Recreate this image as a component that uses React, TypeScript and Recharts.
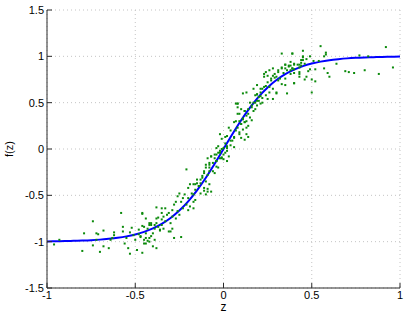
import { ComposedChart, Scatter, Line, XAxis, YAxis, CartesianGrid } from "recharts";

const xTicks = [-1, -0.5, 0, 0.5, 1];
const yTicks = [-1.5, -1, -0.5, 0, 0.5, 1, 1.5];

// fitted curve
const curveZ = [
  -1, -0.95, -0.9, -0.85, -0.8, -0.75, -0.7, -0.65, -0.6, -0.55, -0.5, -0.45, -0.4, -0.35,
  -0.3, -0.25, -0.2, -0.15, -0.1, -0.05, 0, 0.05, 0.1, 0.15, 0.2, 0.25, 0.3, 0.35, 0.4,
  0.45, 0.5, 0.55, 0.6, 0.65, 0.7, 0.75, 0.8, 0.85, 0.9, 0.95, 1,
];
const curveF = [
  -0.997, -0.995, -0.994, -0.991, -0.988, -0.984, -0.978, -0.969, -0.958, -0.943, -0.922,
  -0.894, -0.856, -0.807, -0.744, -0.664, -0.565, -0.446, -0.31, -0.159, 0, 0.159, 0.31,
  0.446, 0.565, 0.664, 0.744, 0.807, 0.856, 0.894, 0.922, 0.943, 0.958, 0.969, 0.978,
  0.984, 0.988, 0.991, 0.994, 0.995, 0.997,
];

// noisy samples
const sampleZ = [
  0.92, 0.96, 0.88, 0.8, 0.77, 0.82, 0.74, 0.71, 0.69, 0.64, 0.6, 0.59, 0.57, 0.58, 0.58,
  0.57, 0.55, 0.54, 0.52, 0.52, 0.5, 0.5, 0.51, 0.49, 0.49, 0.48, 0.47, 0.47, 0.46, 0.46,
  0.45, 0.45, 0.45, 0.44, 0.43, 0.43, 0.43, 0.4, 0.4, 0.39, 0.39, 0.38,
  0.35, 0.37, 0.4, 0.43, 0.44, 0.4, 0.38, 0.35, 0.33, 0.31, 0.28, 0.26, 0.24, 0.23, 0.25,
  0.27, 0.29, 0.31, 0.33, 0.35, 0.36, 0.4, 0.3, 0.28, 0.26, 0.23, 0.21, 0.19, 0.17, 0.19,
  0.21, 0.22, 0.21, 0.2, 0.18, 0.16, 0.13, 0.11, 0.08, 0.08, 0.1, 0.12, 0.14, 0.15, 0.16,
  0.17, 0.13, 0.11, 0.1, 0.08, 0.07, 0.09, 0.13, 0.14, 0.12, 0.1, 0.06, 0.05, 0.04, 0.03,
  0.04, 0.06, 0.02, 0.01, -0.01, -0.02, 0.02, 0, -0.01, -0.03, -0.02, -0.04, 0, 0.02, 0.03,
  -0.04, 0.01, 0.06, 0.09, 0.07, 0.33, 0.39, 0.08,
  0.45, 0.44, 0.42, 0.4, 0.38, 0.37, 0.35, 0.36, 0.33, 0.34, 0.31, 0.29, 0.28, 0.3, 0.32,
  0.27, 0.25, 0.23, 0.24, 0.26, 0.28, 0.3, 0.22, 0.21, 0.19, 0.18, 0.2, 0.19, 0.17, 0.15,
  0.16, 0.14, 0.12, 0.13, 0.11, 0.09, 0.08, 0.07, 0.1, 0.12, 0.18, 0.19, 0.22, 0.24, 0.25,
  0.35, 0.38, 0.43, 0.39,
  0.12, 0.14, 0.11, 0.09, 0.13, 0.06, 0.04, 0.02, 0.02, 0, -0.02, -0.03, -0.05, -0.07,
  -0.09, -0.1, -0.08, -0.06, -0.11, -0.12, -0.13, -0.15, -0.14, -0.16, -0.11, -0.09, -0.1,
  -0.13, -0.08, -0.01, -0.04, 0.01, -0.03,
  -0.02, -0.04, -0.01, -0.05, -0.07, -0.06, -0.08, -0.04, -0.1, -0.08, -0.05, -0.09, -0.11,
  -0.12, -0.1, -0.08, -0.09, -0.07, -0.11, -0.14, -0.13, -0.15, -0.16, -0.17, -0.19, -0.21,
  -0.2, -0.18, -0.17, -0.16, -0.17, -0.2, -0.22, -0.23, -0.25, -0.26, -0.24, -0.21, -0.19,
  -0.17, -0.2, -0.23, -0.27, -0.28, -0.29, -0.26, -0.25, -0.27, -0.29, -0.31, -0.33, -0.35,
  -0.32, -0.34, -0.35, -0.35, -0.33, -0.3, -0.29, -0.31, -0.34, -0.35, -0.36, -0.37, -0.38,
  -0.39, -0.41, -0.42, -0.43, -0.45, -0.46, -0.44, -0.4, -0.42, -0.39, -0.47, -0.38, -0.44,
  -0.45, -0.24, -0.28, -0.3,
  -0.38, -0.37, -0.38, -0.41, -0.42, -0.39, -0.36, -0.46, -0.44, -0.46, -0.48, -0.48, -0.47,
  -0.44, -0.43, -0.45, -0.42, -0.51, -0.5, -0.52, -0.53, -0.55, -0.56, -0.54, -0.58, -0.57,
  -0.62, -0.63, -0.62, -0.57, -0.64, -0.65, -0.68, -0.7, -0.68, -0.71, -0.72, -0.74, -0.74,
  -0.72, -0.79, -0.8, -0.46, -0.49, -0.53, -0.41, -0.4, -0.93, -0.96,
];
const sampleF = [
  1.1, 0.88, 0.81, 0.85, 1.01, 1.0, 0.82, 0.83, 0.84, 0.92, 0.78, 0.82, 0.87, 1.04, 1.02,
  1.0, 1.11, 0.95, 0.86, 0.73, 0.75, 0.61, 0.95, 1.0, 0.86, 0.84, 0.97, 0.78, 0.92, 0.75,
  0.96, 1.06, 1.0, 0.93, 0.78, 0.83, 0.91, 0.71, 0.82, 0.87, 1.03, 0.9,
  0.91, 0.89, 0.91, 0.88, 0.9, 0.86, 0.85, 0.87, 0.88, 0.85, 0.87, 0.85, 0.83, 0.81, 0.79,
  0.76, 0.77, 0.74, 0.7, 0.69, 0.6, 0.71, 0.6, 0.54, 0.61, 0.67, 0.65, 0.69, 0.65, 0.59,
  0.57, 0.55, 0.49, 0.52, 0.5, 0.47, 0.61, 0.6, 0.49, 0.45, 0.43, 0.41, 0.38, 0.34, 0.31,
  0.41, 0.3, 0.33, 0.27, 0.23, 0.2, 0.18, 0.23, 0.13, 0.1, 0.12, 0.13, 0.09, 0.2, 0.23,
  0.04, 0.02, 0.01, 0.06, 0.11, 0.16, -0.02, -0.06, 0.0, -0.04, -0.1, -0.13, -0.11, -0.13, -0.08,
  0.01, 0.13, 0.29, 0.38, 0.3, 1.03, 1.03, 0.49,
  0.99, 0.96, 0.91, 0.92, 0.94, 0.9, 0.91, 0.85, 0.87, 0.82, 0.83, 0.81, 0.79, 0.78, 0.76,
  0.74, 0.72, 0.78, 0.68, 0.67, 0.65, 0.61, 0.65, 0.61, 0.59, 0.58, 0.56, 0.52, 0.5, 0.5,
  0.45, 0.43, 0.41, 0.36, 0.32, 0.3, 0.38, 0.49, 0.27, 0.29, 0.43, 0.47, 0.5, 0.58, 0.54,
  0.76, 0.81, 0.81, 0.87,
  0.29, 0.25, 0.21, 0.16, 0.16, 0.12, 0.09, 0.14, 0.03, 0.01, -0.02, 0.03, -0.06, -0.08,
  -0.1, -0.17, -0.2, -0.24, -0.24, -0.29, -0.33, -0.37, -0.4, -0.44, -0.42, -0.46, -0.49,
  -0.48, -0.15, -0.1, -0.13, -0.04, -0.2,
  -0.04, -0.06, -0.09, -0.1, -0.08, -0.15, -0.17, -0.19, -0.2, -0.24, -0.26, -0.28, -0.26,
  -0.31, -0.35, -0.38, -0.43, -0.46, -0.45, -0.4, -0.37, -0.33, -0.38, -0.38, -0.38, -0.22,
  -0.42, -0.48, -0.49, -0.55, -0.57, -0.53, -0.49, -0.53, -0.48, -0.51, -0.57, -0.6, -0.62,
  -0.64, -0.66, -0.64, -0.57, -0.6, -0.66, -0.67, -0.71, -0.75, -0.73, -0.69, -0.64, -0.64,
  -0.71, -0.73, -0.69, -0.76, -0.78, -0.8, -0.86, -0.89, -0.86, -0.82, -0.87, -0.84, -0.8,
  -0.86, -0.82, -0.8, -0.86, -0.84, -0.69, -0.91, -0.91, -0.96, -0.98, -0.95, -1.07, -1.02,
  -0.98, -0.95, -0.96, -0.89,
  -0.63, -0.74, -0.75, -0.8, -0.82, -0.82, -0.88, -0.7, -0.75, -0.83, -0.87, -0.92, -0.94,
  -0.96, -0.99, -1.02, -1.0, -0.93, -0.98, -0.85, -0.9, -0.96, -1.02, -1.07, -0.69, -0.84,
  -0.9, -0.96, -0.93, -0.89, -0.98, -1.07, -1.05, -1.11, -0.88, -0.92, -0.91, -0.78, -1.04,
  -0.98, -0.91, -1.1, -1.12, -1.09, -1.13, -0.94, -1.05, -0.98, -1.03,
];

const curve = curveZ.map((z, i) => ({ z, f: curveF[i] }));
const samples = sampleZ.map((z, i) => ({ z, f: sampleF[i] }));

const axisColor = "#2b2b2b";
const tickStyle = { fill: "#000", fontSize: 11 };

const SampleDot = (props: any) => (
  <rect x={props.cx - 1} y={props.cy - 1} width={2} height={2} fill="#0b8a0b" />
);

const YLabel = (props: any) => {
  const vb = props.viewBox;
  const cy = vb.y + vb.height / 2;
  return (
    <text x={13} y={cy} transform={`rotate(-90 13 ${cy})`} textAnchor="middle" fontSize={11} fill="#000">
      f(z)
    </text>
  );
};

export default function App() {
  return (
    <div style={{ position: "absolute", left: 0, top: 0, width: 409, height: 320, background: "#fff", fontFamily: "'Liberation Sans', Arial, sans-serif" }}>
      <ComposedChart width={409} height={320} margin={{ top: 10, right: 9, bottom: 0, left: 0 }}>
        <CartesianGrid stroke="#c4c4c4" strokeDasharray="1 3" />
        <XAxis
          type="number" dataKey="z" domain={[-1, 1]} ticks={xTicks} height={32}
          tickSize={-5} tickMargin={8} interval={0}
          axisLine={{ stroke: axisColor }} tickLine={{ stroke: axisColor }} tick={tickStyle}
          label={{ value: "z", position: "insideBottom", offset: 9, fontSize: 12, fill: "#000" }}
        />
        <XAxis
          xAxisId="top" orientation="top" type="number" domain={[-1, 1]} ticks={xTicks} height={0}
          tickSize={-5} interval={0} tickFormatter={() => ""}
          axisLine={{ stroke: axisColor }} tickLine={{ stroke: axisColor }}
        />
        <YAxis
          type="number" dataKey="f" domain={[-1.5, 1.5]} ticks={yTicks} width={47}
          tickSize={-5} tickMargin={8} interval={0}
          axisLine={{ stroke: axisColor }} tickLine={{ stroke: axisColor }} tick={tickStyle}
          label={{ content: YLabel }}
        />
        <YAxis
          yAxisId="right" orientation="right" type="number" domain={[-1.5, 1.5]} ticks={yTicks} width={0}
          tickSize={-5} interval={0} tickFormatter={() => ""}
          axisLine={{ stroke: axisColor }} tickLine={{ stroke: axisColor }}
        />
        <Scatter data={samples} dataKey="f" shape={SampleDot} isAnimationActive={false} />
        <Line data={curve} dataKey="f" type="monotone" stroke="#0000ff" strokeWidth={2} dot={false} isAnimationActive={false} />
      </ComposedChart>
    </div>
  );
}
